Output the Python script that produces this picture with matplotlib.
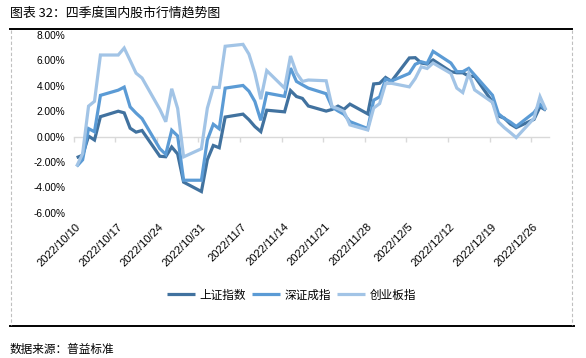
import matplotlib
matplotlib.use("Agg")
import matplotlib.pyplot as plt
from matplotlib.lines import Line2D
import pandas as pd

plt.rcParams['font.family'] = ['Liberation Sans', 'Noto Sans CJK SC', 'DejaVu Sans']

dates = ["2022-10-10", "2022-10-11", "2022-10-12", "2022-10-13", "2022-10-14",
         "2022-10-17", "2022-10-18", "2022-10-19", "2022-10-20", "2022-10-21",
         "2022-10-24", "2022-10-25", "2022-10-26", "2022-10-27", "2022-10-28",
         "2022-10-31", "2022-11-01", "2022-11-02", "2022-11-03", "2022-11-04",
         "2022-11-07", "2022-11-08", "2022-11-09", "2022-11-10", "2022-11-11",
         "2022-11-14", "2022-11-15", "2022-11-16", "2022-11-17", "2022-11-18",
         "2022-11-21", "2022-11-22", "2022-11-23", "2022-11-24", "2022-11-25",
         "2022-11-28", "2022-11-29", "2022-11-30", "2022-12-01", "2022-12-02",
         "2022-12-05", "2022-12-06", "2022-12-07", "2022-12-08", "2022-12-09",
         "2022-12-12", "2022-12-13", "2022-12-14", "2022-12-15", "2022-12-16",
         "2022-12-19", "2022-12-20", "2022-12-21", "2022-12-22", "2022-12-23",
         "2022-12-26", "2022-12-27", "2022-12-28"]

sse = [-1.66, -1.47, 0.04, -0.27, 1.57,
       2.00, 1.87, 0.66, 0.35, 0.48,
       -1.55, -1.59, -0.82, -1.37, -3.59,
       -4.33, -1.82, -0.70, -0.88, 1.54,
       1.77, 1.33, 0.79, 0.39, 2.08,
       1.95, 3.63, 3.16, 3.01, 2.41,
       2.01, 2.14, 2.40, 2.15, 2.56,
       1.79, 4.15, 4.20, 4.66, 4.36,
       6.20, 6.22, 5.80, 5.72, 6.04,
       5.12, 5.03, 5.03, 4.77, 4.74,
       2.73, 1.63, 1.45, 0.99, 0.71,
       1.36, 2.35, 2.08]

szse = [-2.35, -1.83, 0.63, 0.38, 3.25,
        3.66, 3.90, 2.34, 1.85, 1.42,
        -0.95, -1.40, 0.50, 0.05, -3.44,
        -3.44, -0.26, 0.97, 0.61, 3.82,
        4.03, 3.58, 2.77, 1.28, 3.43,
        3.17, 5.40, 4.35, 4.08, 3.82,
        3.38, 2.32, 2.02, 1.76, 1.18,
        0.63, 2.87, 3.13, 4.52, 4.38,
        4.98, 5.70, 5.90, 5.77, 6.72,
        5.80, 5.12, 5.12, 5.38, 4.85,
        3.26, 1.80, 1.42, 1.15, 0.80,
        1.90, 2.55, 2.10]

chinext = [-2.35, -1.35, 2.40, 2.78, 6.43,
           6.43, 6.98, 6.00, 5.00, 4.62,
           2.15, 1.17, 3.77, 2.22, -1.60,
           -0.96, 2.24, 3.88, 3.87, 7.12,
           7.27, 6.50, 5.00, 2.95, 5.20,
           3.82, 6.35, 5.02, 4.35, 4.46,
           4.40, 2.36, 2.20, 1.98, 0.92,
           0.52, 2.25, 2.60, 4.18, 4.20,
           3.92, 4.58, 5.50, 5.37, 5.80,
           4.98, 3.82, 3.47, 4.98, 3.68,
           2.70, 1.15, 0.70, 0.32, -0.08,
           1.45, 3.15, 2.10]

tick_labels = ["2022/10/10", "2022/10/17", "2022/10/24", "2022/10/31", "2022/11/7",
               "2022/11/14", "2022/11/21", "2022/11/28", "2022/12/5", "2022/12/12",
               "2022/12/19", "2022/12/26"]

series_names = ["上证指数", "深证成指", "创业板指"]
colors = ["#41729F", "#5B9BD5", "#A2C4E6"]

W, H = 586, 358
fig = plt.figure(figsize=(W / 100, H / 100), dpi=100)

# axes placement (pixels)
x0, x1 = 73.7, 548.9
y_top, y_bot = 35.1, 212.7
ax = fig.add_axes([x0 / W, 1 - y_bot / H, (x1 - x0) / W, (y_bot - y_top) / H])

start = pd.Timestamp(dates[0])
dt = pd.to_datetime(dates)
xs = [(d - start).days + 0.5 for d in dt]
end_day = (dt[-1] - start).days + 1

for vals, name, c in zip([sse, szse, chinext], series_names, colors):
    ax.plot(xs, vals, color=c, lw=2.3, label=name, solid_joinstyle='miter',
            solid_capstyle='butt')

ax.set_xlim(0, end_day)
ax.set_ylim(-6, 8)
ax.set_yticks(range(-6, 9, 2))
ax.set_yticklabels([f"{v:.2f}%" for v in range(-6, 9, 2)])
ax.tick_params(axis='y', length=0, pad=6, labelsize=7.3, labelcolor='black')

for s in ['top', 'left', 'right']:
    ax.spines[s].set_visible(False)
ax.spines['bottom'].set_position(('data', 0))
ax.spines['bottom'].set_color('#D9D9D9')
ax.spines['bottom'].set_linewidth(1.0)
ax.spines['bottom'].set_zorder(0)

tick_days = [(pd.Timestamp(t.replace('/', '-')) - start).days for t in tick_labels]
ax.set_xticks(tick_days)
ax.tick_params(axis='x', direction='out', length=3.5, width=1.0, color='#D9D9D9',
               labelbottom=False)

sec = ax.secondary_xaxis(0.0)
sec.spines['bottom'].set_visible(False)
sec.set_xticks([d + 0.9 for d in tick_days])
sec.set_xticklabels(tick_labels)
sec.tick_params(axis='x', length=0, pad=9, labelsize=8)
for lab in sec.get_xticklabels():
    lab.set_rotation(45)
    lab.set_ha('right')
    lab.set_va('center')
    lab.set_rotation_mode('anchor')

# frame decorations
def fline(xa, ya, xb, yb, **kw):
    fig.add_artist(Line2D([xa / W, xb / W], [1 - ya / H, 1 - yb / H],
                          transform=fig.transFigure, **kw))

fline(10, 28.5, 572, 28.5, color='black', lw=1.4)
fline(10, 326, 574, 326, color='black', lw=1.4)
fline(10.5, 30, 10.5, 325, color='#BFBFBF', lw=0.8, ls=(0, (3, 2)))
fline(572, 30, 572, 325, color='#BFBFBF', lw=0.8, ls=(0, (3, 2)))

fig.text(10 / W, 1 - 13 / H, "图表 32：四季度国内股市行情趋势图", fontsize=9.3,
         ha='left', va='center', family=['Noto Sans CJK SC', 'DejaVu Sans'])
fig.text(10 / W, 1 - 349 / H, "数据来源：普益标准", fontsize=8.4,
         ha='left', va='center', family=['Noto Sans CJK SC', 'DejaVu Sans'])

leg = fig.legend(loc='center', bbox_to_anchor=(291.5 / W, 1 - 295 / H), ncol=3,
                 frameon=False, handlelength=2.4, handletextpad=0.45,
                 columnspacing=0.45, prop={'family': 'Noto Sans CJK SC', 'size': 8.4})

fig.savefig("out.png", dpi=100)
